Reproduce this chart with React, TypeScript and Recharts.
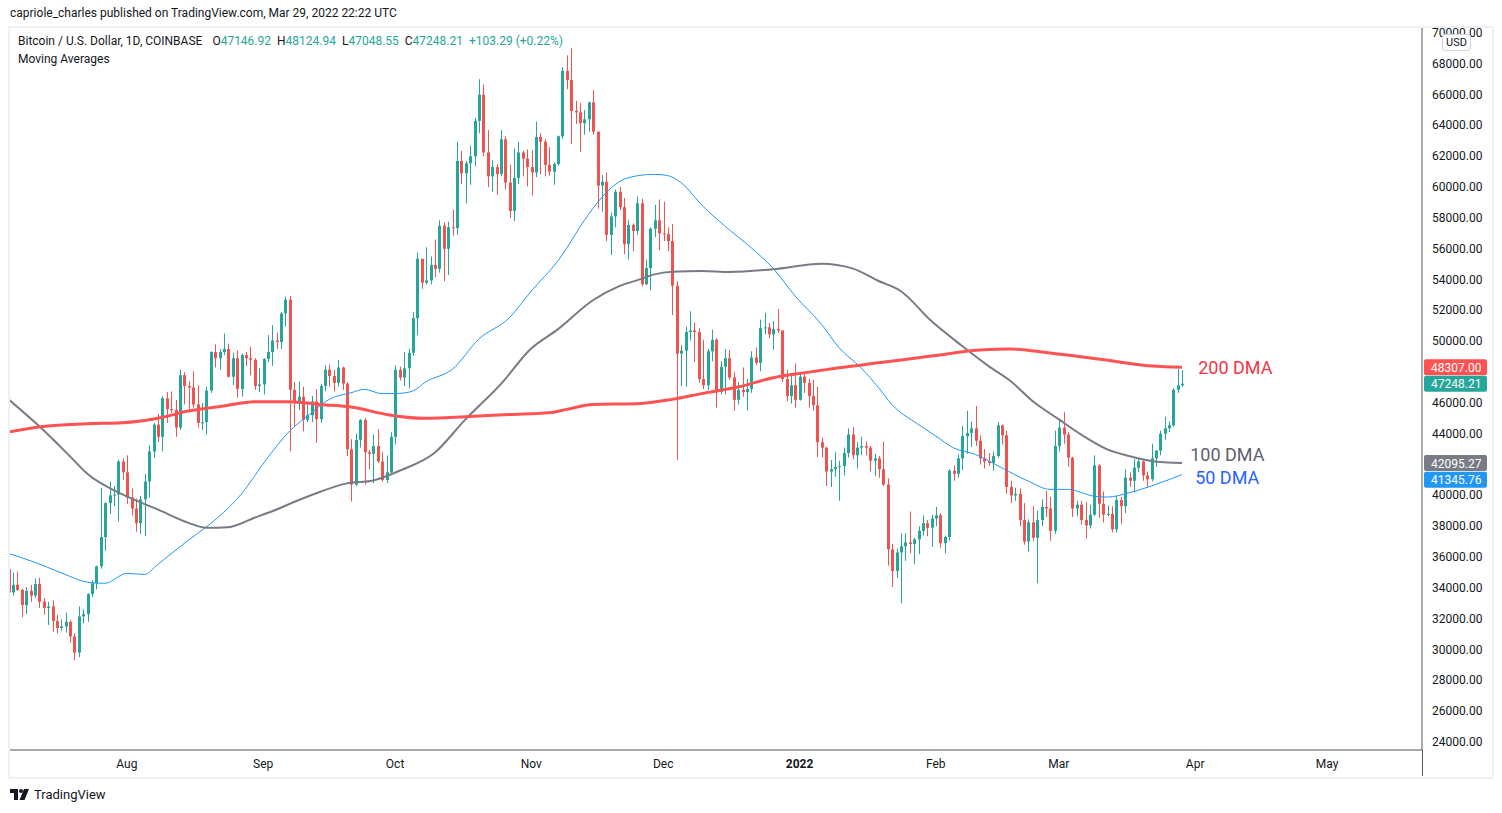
import React from "react";
import { Bar, ComposedChart, Line, ReferenceDot, XAxis, YAxis } from "recharts";

const UP = "#26a69a";
const DOWN = "#ef5350";
const FONT = "Roboto, 'Noto Sans', sans-serif";

// daily candles from 2021-07-05, open = previous close
const firstDay = "2021-07-05";
const firstOpen = 35200;

const closes = [
  // Jul
  33700, 34200, 33870, 32880, 33800, 33500, 34250, 33100, 32700, 32800, 31850, 31400, 31500, 31800, 30850, 29800, 32150, 32300, 33600, 34300, 35400, 37300, 39500, 40000, 40050, 42200, 41500,
  // Aug
  39850, 39150, 38200, 39750, 40900, 42850, 44600, 43800, 46300, 45600, 45550, 44400, 47800, 47100, 47000, 45900, 44700, 44750, 46800, 49300, 48900, 49300, 49500, 47700, 48900, 46900, 49100, 48900, 48800, 47100, 47200,
  // Sep
  48850, 49300, 50050, 49950, 51800, 52700, 46850, 46100, 46400, 44900, 45200, 46100, 44950, 47100, 48150, 47750, 47300, 48300, 47250, 43000, 40700, 43600, 44900, 42800, 42700, 43200, 42200, 41000, 41500, 43800,
  // Oct
  48150, 47650, 48250, 49250, 51500, 55350, 53800, 53950, 54950, 54700, 57500, 56000, 57400, 57350, 61700, 60900, 61550, 62000, 64300, 66000, 62250, 60700, 61300, 60850, 63100, 60300, 58450, 60600, 62250, 61850, 61300,
  // Nov
  60950, 63250, 62950, 61450, 61000, 61500, 63300, 67550, 66950, 64950, 64850, 64150, 64400, 65500, 63600, 60100, 60350, 56900, 58100, 59700, 58700, 56300, 57550, 57150, 58950, 53700, 54750, 57300, 57850, 57000,
  // Dec
  56950, 56500, 53600, 49200, 49400, 50600, 50700, 50600, 47550, 47150, 49350, 50100, 46700, 48350, 48900, 47650, 46200, 46850, 46700, 46900, 48950, 48600, 50850, 50900, 50450, 50800, 50700, 47550, 46450, 47150, 46200,
  // Jan
  47700, 47300, 46450, 45850, 43450, 43100, 41550, 41700, 41850, 41900, 42750, 43950, 42600, 43100, 43200, 43100, 42250, 42400, 41700, 40700, 36500, 35100, 36300, 36700, 36950, 36850, 37150, 37700, 38200, 37900, 38500,
  // Feb
  38700, 36900, 37300, 41600, 41400, 42400, 43850, 44050, 44350, 43550, 42400, 42200, 42100, 42550, 44550, 43900, 40550, 40000, 40100, 38400, 37000, 38250, 37250, 38400, 39250, 39150, 37700, 43200,
  // Mar
  44400, 43950, 42450, 39150, 39400, 38400, 38050, 38750, 41950, 39450, 38750, 38800, 37800, 39700, 39300, 41150, 40950, 41800, 42200, 41300, 41050, 42400, 42900, 44000, 44350, 44550, 46850, 47147, 47248,
];

const highs = [
  35300, 35000, 35050, 33930, 34050, 34200, 34600, 34650, 33350, 33100, 33200, 32250, 31950, 32400, 31900, 31050, 32800, 32600, 33650, 34500, 35450, 40500, 39550, 40900, 40600, 42300, 42400,
  42600, 40450, 39800, 39950, 41400, 43250, 44700, 45300, 46450, 46700, 46750, 46200, 48150, 48000, 47400, 48050, 47150, 46000, 47050, 49350, 49800, 49500, 50500, 49850, 49250, 49400, 49200, 49300, 49650, 48900, 48250,
  48900, 50400, 51050, 50550, 51900, 52900, 52950, 47350, 47400, 47050, 45950, 46450, 46900, 47250, 48450, 48500, 48150, 48800, 48350, 47350, 43650, 44000, 44950, 45000, 42950, 43950, 44300, 42800, 42600, 44100,
  48450, 48350, 49300, 49500, 51900, 55750, 55350, 56100, 55500, 56600, 57850, 57700, 57750, 58550, 62950, 62350, 61700, 62700, 64500, 67000, 66650, 63700, 61750, 61500, 63700, 63300, 61450, 62500, 62950, 62350, 62450,
  62400, 64250, 63500, 63100, 62600, 61600, 63350, 67800, 68550, 69000, 65600, 65450, 65000, 65550, 66300, 63600, 60800, 60950, 58350, 59850, 60000, 59300, 57850, 57650, 59400, 59250, 55300, 57400, 58850, 59200,
  59050, 57400, 57600, 53900, 49750, 50950, 51950, 51200, 50850, 50100, 49500, 50750, 50200, 48700, 49500, 49450, 48000, 47350, 48300, 47550, 49350, 49600, 51400, 51850, 51200, 51300, 52100, 50700, 48150, 47900, 48550,
  47950, 47950, 47550, 47500, 47050, 43750, 43150, 42300, 42800, 42250, 43100, 44350, 44450, 43450, 43800, 43500, 43200, 42700, 42550, 43500, 41100, 36850, 36550, 37550, 37550, 38950, 37250, 38000, 38700, 38400, 38750,
  39250, 38850, 37400, 41700, 41950, 42650, 44500, 45500, 44800, 45800, 43900, 43000, 42750, 42850, 44750, 44600, 44200, 40950, 40500, 40450, 39500, 38450, 39300, 39000, 39750, 40300, 39900, 44200,
  44950, 45400, 44100, 42500, 39650, 39650, 39550, 39400, 42600, 42050, 40250, 39350, 39300, 39950, 39900, 41700, 41500, 42350, 42400, 42300, 41550, 43350, 42950, 44200, 45100, 44800, 46950, 48190, 48125,
];

const lows = [
  33150, 33500, 33800, 32100, 32300, 33100, 33350, 32700, 32250, 31600, 31150, 31050, 31200, 31100, 30450, 29300, 29500, 31700, 31800, 33400, 33900, 35250, 36400, 38800, 39300, 38300, 41000,
  39450, 38700, 37650, 37500, 37350, 39850, 42450, 43450, 42850, 44700, 45350, 43800, 44250, 45900, 45550, 45700, 44400, 44250, 43950, 46650, 48300, 48150, 49100, 47650, 47150, 46350, 46400, 48400, 47800, 46850, 46700,
  46550, 48650, 48400, 49500, 49500, 50950, 42850, 44450, 45550, 44150, 44750, 44750, 43400, 44700, 46750, 47050, 46750, 47050, 46850, 42550, 39600, 40600, 43100, 40700, 41700, 40800, 42100, 40900, 40800, 41450,
  43300, 47450, 47100, 46950, 49050, 50400, 53400, 53700, 53700, 54150, 54450, 53900, 54300, 56850, 56900, 60200, 58950, 60150, 61350, 63500, 62000, 60000, 59700, 59500, 60700, 59850, 58000, 57800, 60200, 60700, 60050,
  59450, 60650, 60850, 60700, 60750, 60150, 61400, 63150, 66350, 62800, 64100, 62300, 63400, 63600, 63400, 58600, 58400, 56500, 55600, 57400, 58500, 55650, 55300, 55850, 56900, 53550, 53650, 53300, 56750, 55900,
  56500, 55850, 51700, 42300, 47100, 47050, 50050, 48650, 47300, 46900, 46850, 48700, 45700, 46550, 46550, 47500, 45500, 45900, 46400, 45500, 46650, 48450, 48050, 50450, 50200, 49450, 50550, 47350, 46100, 45950, 45700,
  46150, 46650, 45700, 45500, 42500, 42450, 40600, 40550, 41200, 39650, 41300, 42450, 42350, 41750, 42600, 42600, 41550, 41250, 41150, 40600, 35450, 34050, 34650, 33000, 35750, 36250, 35550, 36200, 37400, 37350, 36650,
  38000, 36600, 36250, 37050, 40950, 41150, 41650, 42700, 43150, 43200, 42000, 41750, 41900, 41600, 42450, 43300, 40100, 39500, 39650, 38000, 36800, 36350, 37050, 34300, 38000, 38600, 37050, 37500,
  42850, 43350, 41850, 38600, 38650, 38100, 37200, 37850, 38650, 38550, 38250, 38650, 37600, 37600, 38150, 38850, 40550, 40200, 41500, 40950, 40500, 40900, 41850, 42600, 43600, 44100, 44450, 46650, 47049,
];

// moving averages
const ma50: [string, number][] = [
  ["2021-07-05", 36240], ["2021-07-12", 35560], ["2021-07-17", 34980], ["2021-07-24", 34330], ["2021-07-27", 34300],
  ["2021-08-01", 34940], ["2021-08-05", 34870], ["2021-08-08", 35520], ["2021-08-15", 37100], ["2021-08-19", 37940],
  ["2021-08-27", 40080], ["2021-09-02", 42440], ["2021-09-07", 44170], ["2021-09-12", 45360], ["2021-09-16", 46230],
  ["2021-09-21", 46660], ["2021-09-24", 46880], ["2021-09-28", 46600], ["2021-10-02", 46620], ["2021-10-05", 46770],
  ["2021-10-08", 47370], ["2021-10-14", 48180], ["2021-10-20", 50130], ["2021-10-27", 51530], ["2021-11-01", 53260],
  ["2021-11-07", 55200], ["2021-11-14", 58230], ["2021-11-18", 59640], ["2021-11-23", 60610], ["2021-11-29", 60830],
  ["2021-12-02", 60750], ["2021-12-05", 60300], ["2021-12-10", 58770], ["2021-12-15", 57480], ["2021-12-21", 56070],
  ["2021-12-26", 54730], ["2021-12-31", 52930], ["2022-01-06", 51100], ["2022-01-10", 49580], ["2022-01-15", 48280],
  ["2022-01-19", 46980], ["2022-01-22", 45900], ["2022-01-28", 44610], ["2022-02-01", 43850], ["2022-02-05", 43090],
  ["2022-02-10", 42660], ["2022-02-16", 41790], ["2022-02-22", 40930], ["2022-02-27", 40390], ["2022-03-03", 40390],
  ["2022-03-09", 39950], ["2022-03-12", 39890], ["2022-03-17", 40170], ["2022-03-23", 40710], ["2022-03-29", 41346],
];

const ma100: [string, number][] = [
  ["2021-07-05", 46250], ["2021-07-12", 44500], ["2021-07-19", 42550], ["2021-07-23", 41400], ["2021-07-31", 40060],
  ["2021-08-08", 39090], ["2021-08-15", 38220], ["2021-08-19", 37900], ["2021-08-24", 37940], ["2021-08-30", 38550],
  ["2021-09-05", 39200], ["2021-09-08", 39570], ["2021-09-14", 40240], ["2021-09-20", 40780], ["2021-09-26", 40970],
  ["2021-10-02", 41600], ["2021-10-10", 42770], ["2021-10-17", 44930], ["2021-10-25", 47200], ["2021-11-01", 49540],
  ["2021-11-07", 50770], ["2021-11-15", 52660], ["2021-11-21", 53580], ["2021-11-25", 53950], ["2021-11-29", 54340],
  ["2021-12-03", 54510], ["2021-12-10", 54560], ["2021-12-16", 54490], ["2021-12-26", 54670], ["2022-01-06", 55030],
  ["2022-01-13", 54730], ["2022-01-19", 53910], ["2022-01-24", 53260], ["2022-01-31", 51310], ["2022-02-07", 49690],
  ["2022-02-13", 48390], ["2022-02-18", 47420], ["2022-02-23", 46120], ["2022-03-01", 44930], ["2022-03-06", 43960],
  ["2022-03-12", 42990], ["2022-03-17", 42550], ["2022-03-22", 42230], ["2022-03-29", 42095],
];

const ma200: [string, number][] = [
  ["2021-07-05", 44110], ["2021-07-14", 44500], ["2021-07-23", 44650], ["2021-07-31", 44710], ["2021-08-08", 45000],
  ["2021-08-15", 45470], ["2021-08-23", 45800], ["2021-08-30", 46080], ["2021-09-07", 46080], ["2021-09-14", 45900],
  ["2021-09-22", 45690], ["2021-09-29", 45250], ["2021-10-08", 45000], ["2021-10-17", 45100], ["2021-10-27", 45250],
  ["2021-11-05", 45360], ["2021-11-09", 45580], ["2021-11-15", 45900], ["2021-11-25", 45950], ["2021-12-03", 46230],
  ["2021-12-10", 46620], ["2021-12-18", 47030], ["2021-12-26", 47630], ["2022-01-02", 47950], ["2022-01-10", 48280],
  ["2022-01-19", 48600], ["2022-01-31", 49040], ["2022-02-11", 49430], ["2022-02-18", 49500], ["2022-02-27", 49240],
  ["2022-03-10", 48850], ["2022-03-22", 48390], ["2022-03-29", 48307],
];

const monthTicks = ["2021-08-01", "2021-09-01", "2021-10-01", "2021-11-01", "2021-12-01", "2022-01-01", "2022-02-01", "2022-03-01", "2022-04-01", "2022-05-01"];
const monthLabels = ["Aug", "Sep", "Oct", "Nov", "Dec", "2022", "Feb", "Mar", "Apr", "May"];
// 48000 and 42000 sit under the last-value tags, so the axis leaves them out
const priceTicks = [24000, 26000, 28000, 30000, 32000, 34000, 36000, 38000, 40000, 44000, 46000, 50000, 52000, 54000, 56000, 58000, 60000, 62000, 64000, 66000, 68000, 70000];

const lastValues = [
  { value: 48307, text: "48307.00", color: "#ff5252", dy: 0 },
  { value: 47248.21, text: "47248.21", color: UP, dy: 0 },
  { value: 42095.27, text: "42095.27", color: "#787b86", dy: 0 },
  { value: 41345.76, text: "41345.76", color: "#2196f3", dy: 5 },
];

const maLabels = [
  { value: 48307, text: "200 DMA", color: "#f23645", dx: 3 },
  { value: 42650, text: "100 DMA", color: "#5d606b", dx: -5 },
  { value: 41130, text: "50 DMA", color: "#2962ff", dx: 0 },
];

const AUG1 = Date.UTC(2021, 7, 1);
const dayOf = (iso: string) => {
  const [y, m, d] = iso.split("-").map(Number);
  return (Date.UTC(y, m - 1, d) - AUG1) / 86400000;
};

const candles = closes.map((c, i) => {
  const o = i === 0 ? firstOpen : closes[i - 1];
  const h = Math.max(highs[i], o, c);
  const l = Math.min(lows[i], o, c);
  return { t: dayOf(firstDay) + i, o, h, l, c, range: [l, h] };
});

const toLine = (pts: [string, number][]) => pts.map(([d, v]) => ({ t: dayOf(d), v }));

const Candle = (props: any) => {
  const { x, y, width, height, payload } = props;
  if (!payload || height == null) return null;
  const { o, h, l, c } = payload;
  const color = c >= o ? UP : DOWN;
  const k = height / (h - l || 1);
  const top = y + (h - Math.max(o, c)) * k;
  const bot = y + (h - Math.min(o, c)) * k;
  const mid = Math.round(x + width / 2);
  return (
    <g>
      <line x1={mid + 0.5} x2={mid + 0.5} y1={y} y2={y + height} stroke={color} strokeWidth={1} />
      <rect x={mid - 1} y={top} width={3} height={Math.max(1, bot - top)} fill={color} />
    </g>
  );
};

const PriceTick = (props: any) => {
  const { x, y, payload } = props;
  return (
    <text x={x + 10} y={y} dominantBaseline="central" fontSize={12} fill="#131722" fontFamily={FONT}>
      {payload.value.toFixed(2)}
    </text>
  );
};

const MonthTick = (props: any) => {
  const { x, y, index } = props;
  const label = monthLabels[index];
  return (
    <text x={x} y={y + 14} textAnchor="middle" dominantBaseline="central" fontSize={12}
      fontWeight={label === "2022" ? 700 : 400} fill="#131722" fontFamily={FONT}>
      {label}
    </text>
  );
};

export default function App() {
  const xMin = -26.6;
  const xMax = 294.6;
  return (
    <div style={{ position: "relative", width: 1502, height: 813, background: "#fff", fontFamily: FONT, overflow: "hidden" }}>
      <style>{"body{margin:0}"}</style>
      <div style={{ position: "absolute", left: 10, top: 6, fontSize: 12, color: "#131722" }}>
        capriole_charles published on TradingView.com, Mar 29, 2022 22:22 UTC
      </div>
      <div style={{ position: "absolute", left: 8, top: 26, width: 1482, height: 749, border: "2px solid #eef0f4" }} />

      <ComposedChart width={1502} height={813} data={candles} margin={{ top: 28, right: 10, bottom: 36, left: 10 }}
        style={{ position: "absolute", left: 0, top: 0 }}>
        <XAxis dataKey="t" type="number" domain={[xMin, xMax]} allowDataOverflow ticks={monthTicks.map(dayOf)}
          interval={0} height={27} tickLine={false} tickSize={0} tickMargin={0} axisLine={{ stroke: "#50535e" }}
          tick={<MonthTick />} />
        <YAxis orientation="right" type="number" domain={[23481, 70325]} allowDataOverflow ticks={priceTicks}
          interval={0} width={70} tickLine={false} tickSize={0} tickMargin={0} axisLine={{ stroke: "#50535e" }}
          tick={<PriceTick />} />
        <Bar dataKey="range" barSize={3} shape={<Candle />} isAnimationActive={false} />
        <Line data={toLine(ma50)} dataKey="v" type="monotone" stroke="#2196f3" strokeWidth={1} dot={false} isAnimationActive={false} />
        <Line data={toLine(ma100)} dataKey="v" type="monotone" stroke="#787b86" strokeWidth={2} dot={false} isAnimationActive={false} />
        <Line data={toLine(ma200)} dataKey="v" type="monotone" stroke="#ff5252" strokeWidth={3} dot={false} isAnimationActive={false} />
        {maLabels.map((m) => (
          <ReferenceDot key={m.text} x={dayOf("2022-04-01")} y={m.value} r={0}
            shape={(p: any) => (
              <text x={p.cx + m.dx} y={p.cy} dominantBaseline="central" fontSize={18} fill={m.color} fontFamily={FONT}>
                {m.text}
              </text>
            )} />
        ))}
        {lastValues.map((m) => (
          <ReferenceDot key={m.text} x={xMax} y={m.value} r={0}
            shape={(p: any) => (
              <g>
                <rect x={p.cx + 2} y={p.cy + m.dy - 8} width={63} height={16} rx={2} fill={m.color} />
                <text x={p.cx + 9} y={p.cy + m.dy + 0.5} dominantBaseline="central" fontSize={12} fill="#fff" fontFamily={FONT}>
                  {m.text}
                </text>
              </g>
            )} />
        ))}
      </ComposedChart>

      <div style={{ position: "absolute", left: 1422, top: 750, width: 1, height: 26, background: "#50535e" }} />
      <div style={{ position: "absolute", left: 1442, top: 34, width: 27, height: 15, border: "1px solid #d1d4dc", borderRadius: 3,
        background: "#fff", fontSize: 11, color: "#131722", textAlign: "center", lineHeight: "15px" }}>USD</div>

      <div style={{ position: "absolute", left: 18, top: 34, fontSize: 12, color: "#131722", display: "flex", gap: 6, whiteSpace: "nowrap" }}>
        <span style={{ marginRight: 4 }}>Bitcoin / U.S. Dollar, 1D, COINBASE</span>
        <span>O<span style={{ color: UP }}>47146.92</span></span>
        <span>H<span style={{ color: UP }}>48124.94</span></span>
        <span>L<span style={{ color: UP }}>47048.55</span></span>
        <span>C<span style={{ color: UP }}>47248.21</span></span>
        <span style={{ color: UP }}>+103.29 (+0.22%)</span>
      </div>
      <div style={{ position: "absolute", left: 18, top: 52, fontSize: 12, color: "#131722" }}>Moving Averages</div>

      <div style={{ position: "absolute", left: 10, top: 787, display: "flex", alignItems: "center", gap: 4 }}>
        <svg width={20} height={12} viewBox="0 0 20 12">
          <path d="M0 0 H8 V11 H4 V4 H0 Z" fill="#131722" />
          <circle cx={11} cy={2} r={2} fill="#131722" />
          <path d="M14 0 H19 L14.5 11 H9.5 Z" fill="#131722" />
        </svg>
        <span style={{ fontSize: 13, color: "#131722" }}>TradingView</span>
      </div>
    </div>
  );
}
